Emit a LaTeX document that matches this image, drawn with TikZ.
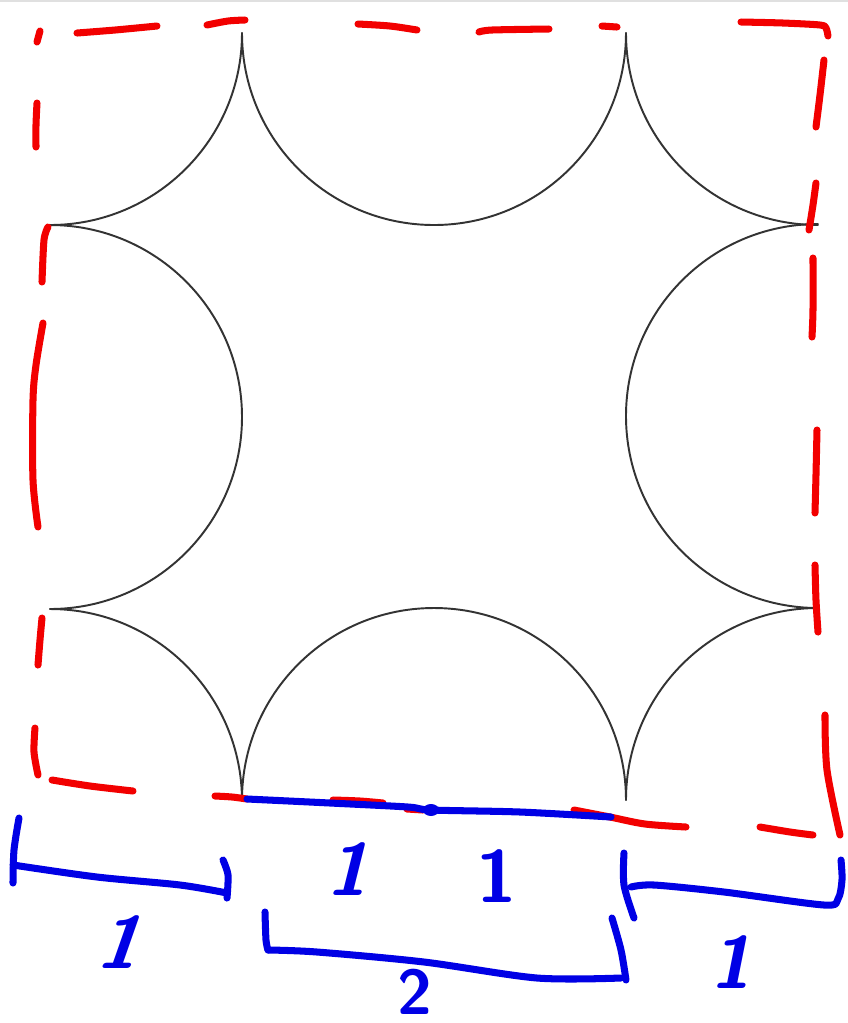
\documentclass[tikz,border=0pt]{standalone}
\begin{document}
\begin{tikzpicture}[x=0.01cm, y=-0.01cm, line cap=round, line join=round,
    arcline/.style = {draw=black!80, line width=0.55pt},
    redpen/.style = {draw=red!95!black, line width=2pt},
    bluepen/.style = {draw=blue!90!black, line width=2pt},
    digit/.style = {text=blue!90!black, inner sep=0pt, font=\sffamily\bfseries\fontsize{21}{25}\selectfont}]
  \useasboundingbox (0,0) rectangle (848,1023);
  \fill[white] (0,0) rectangle (848,1023);
  \draw[black!12, line width=0.6pt] (0,1) -- (848,1);

  % the eight arcs of radius 1
  \draw[arcline] (242,33) arc[start angle=0, end angle=90, radius=192];
  \draw[arcline] (50,225) arc[start angle=-90, end angle=90, radius=192];
  \draw[arcline] (50,609) arc[start angle=-90, end angle=0, radius=192];
  \draw[arcline] (242,800) arc[start angle=180, end angle=360, radius=192];
  \draw[arcline] (626,800) arc[start angle=180, end angle=270, radius=192];
  \draw[arcline] (818,608) arc[start angle=90, end angle=270, radius=192];
  \draw[arcline] (818,225) arc[start angle=90, end angle=180, radius=192];
  \draw[arcline] (626,33) arc[start angle=0, end angle=180, radius=192];

  % red dashed outline, drawn by hand
  \draw[redpen] (40,31) -- (37,42);
  \draw[redpen] plot[smooth] coordinates {(77,33) (115,30) (157,26)};
  \draw[redpen] plot[smooth] coordinates {(207,25) (228,21) (245,20)};
  \draw[redpen] plot[smooth] coordinates {(358,24) (390,26) (417,30)};
  \draw[redpen] plot[smooth] coordinates {(479,32) (492,30) (549,29)};
  \draw[redpen] (602,26) -- (617,27);
  \draw[redpen] plot[smooth] coordinates {(741,22) (783,23) (820,25) (826,28) (828,36)};
  \draw[redpen] plot[smooth] coordinates {(824,60) (820,95) (816,127)};
  \draw[redpen] plot[smooth] coordinates {(816,183) (813,205) (809,230)};
  \draw[redpen] plot[smooth] coordinates {(813,258) (813,310) (812,337)};
  \draw[redpen] plot[smooth] coordinates {(817,430) (816,475) (815,513)};
  \draw[redpen] plot[smooth] coordinates {(815,565) (816,600) (818,632)};
  \draw[redpen] plot[smooth] coordinates {(825,715) (827,770) (840,835)};
  \draw[redpen] plot[smooth] coordinates {(760,827) (790,832) (813,835)};
  \draw[redpen] plot[smooth] coordinates {(574,810) (610,817) (645,824) (686,827)};
  \draw[redpen] plot[smooth] coordinates {(333,800) (360,801) (383,803)};
  \draw[redpen] (407,809) -- (423,810);
  \draw[redpen] plot[smooth] coordinates {(215,796) (232,797) (247,799)};
  \draw[redpen] plot[smooth] coordinates {(52,780) (90,786) (133,791)};
  \draw[redpen] plot[smooth] coordinates {(35,728) (34,752) (38,775)};
  \draw[redpen] plot[smooth] coordinates {(42,618) (40,640) (38,665)};
  \draw[redpen] plot[smooth] coordinates {(43,323) (36,365) (33,400) (33,480) (38,527)};
  \draw[redpen] plot[smooth] coordinates {(48,227) (44,240) (42,282)};
  \draw[redpen] plot[smooth] coordinates {(37,103) (36,125) (36,147)};

  % blue base line and brackets
  \draw[bluepen] plot[smooth] coordinates {(247,799) (330,803) (408,807) (431,810) (520,812) (611,817)};
  \fill[blue!90!black] (431,810) ellipse[x radius=8, y radius=6];
  \draw[bluepen] plot[smooth] coordinates {(19,818) (14,850) (13,883)};
  \draw[bluepen] plot[smooth] coordinates {(13,865) (97,877) (180,885) (227,893)};
  \draw[bluepen] plot[smooth] coordinates {(223,860) (228,875) (227,898)};
  \draw[bluepen] plot[smooth] coordinates {(265,912) (266,940) (268,950)};
  \draw[bluepen] plot[smooth] coordinates {(268,950) (317,952) (424,962) (537,978) (621,978)};
  \draw[bluepen] plot[smooth] coordinates {(612,918) (621,950) (626,980)};
  \draw[bluepen] plot[smooth] coordinates {(624,853) (624,885) (634,918)};
  \draw[bluepen] plot[smooth] coordinates {(631,887) (654,885) (724,892) (824,905) (838,899) (842,880) (841,860)};

  % lengths
  \node[digit, xslant=0.35] (left) at (125,942) {1};
  \node[digit, xslant=0.25] (midA) at (353,869) {1};
  \node[digit] (midB) at (497,876) {1};
  \node[digit, font=\sffamily\bfseries\fontsize{18}{22}\selectfont] (mid) at (415,992) {2};
  \node[digit, xslant=0.2] (right) at (736,962) {1};
\end{tikzpicture}
\end{document}
